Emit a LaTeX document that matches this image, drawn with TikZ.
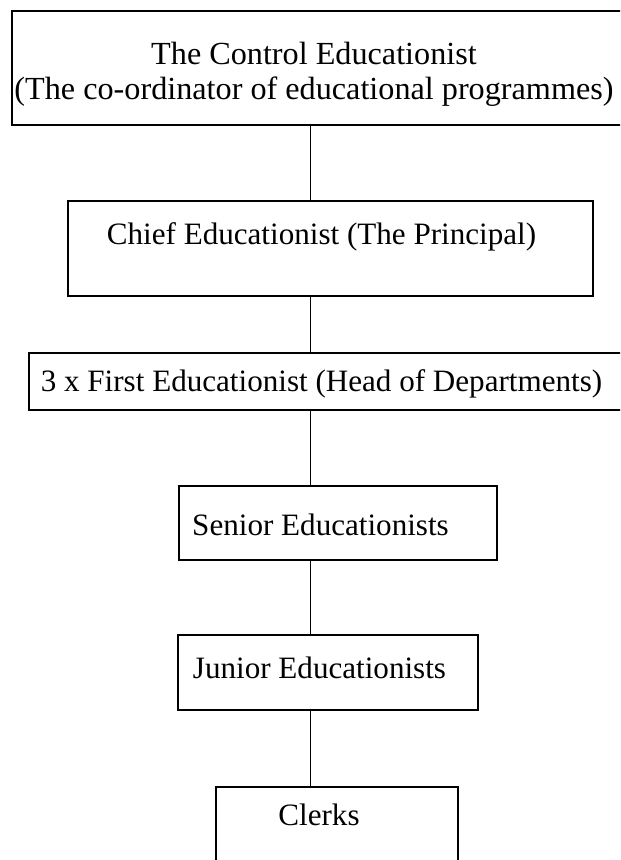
\documentclass[tikz,border=0pt]{standalone}
\usepackage{fontspec}
\setmainfont{Liberation Serif}

\begin{document}
\begin{tikzpicture}[x=0.5pt, y=-0.5pt,
  box/.style={draw, line width=1pt, inner sep=0},
  txt/.style={anchor=base, inner sep=0, font=\fontsize{15.55}{17.5}\selectfont}]

  % 画布
  \useasboundingbox (0,0) rectangle (620,860);
  \clip (0,0) rectangle (620,860);

  % 方框
  \node[box, minimum width=324pt, minimum height=56.75pt] (ctrl) at (336,68.25) {};
  \node[box, minimum width=262.5pt, minimum height=47.5pt] (chief) at (330.5,248.5) {};
  \node[box, minimum width=315.5pt, minimum height=28.5pt] (first) at (344.5,381.5) {};
  \node[box, minimum width=159pt, minimum height=37pt] (senior) at (338,523) {};
  \node[box, minimum width=150pt, minimum height=37.5pt] (junior) at (328,672.5) {};
  \node[box, minimum width=121pt, minimum height=56.5pt] (clerks) at (337,843.5) {};

  % 文字
  \node[txt, align=center, font=\fontsize{16.1}{17.5}\selectfont] (ctrlT) at (314,100) {The Control Educationist\\(The co-ordinator of educational programmes)};
  \node[txt] (chiefT) at (321.5,245) {Chief Educationist (The Principal)};
  \node[txt] (firstT) at (321.5,391.5) {3 x First Educationist (Head of Departments)};
  \node[txt] (seniorT) at (320.5,535) {Senior Educationists};
  \node[txt] (juniorT) at (319.5,678) {Junior Educationists};
  \node[txt] (clerksT) at (319,825) {Clerks};

  % 连线
  \coordinate (spine) at (310.5,0);
  \foreach \a/\b in {ctrl/chief, chief/first, first/senior, senior/junior, junior/clerks}
    \draw[line width=0.8pt] (\a.south -| spine) -- (\b.north -| spine);

\end{tikzpicture}
\end{document}
